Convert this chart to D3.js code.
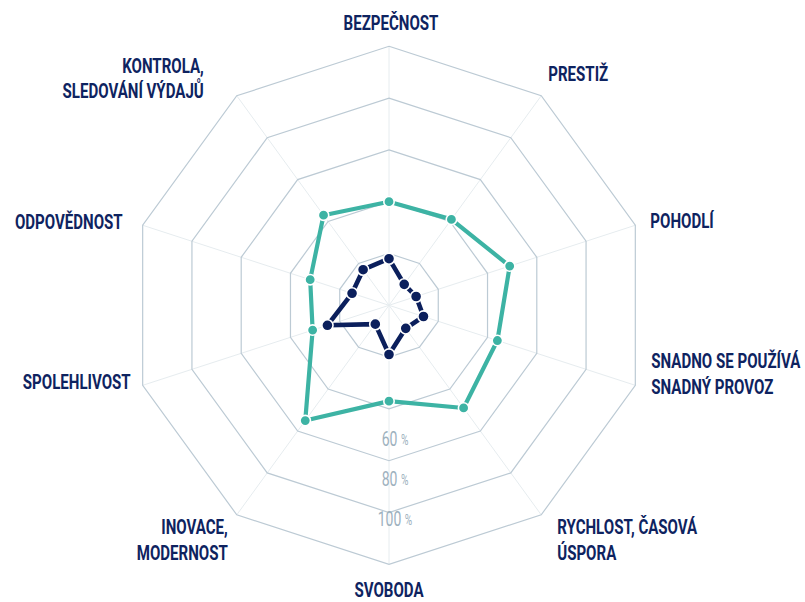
<!DOCTYPE html>
<html>
<head>
<meta charset="utf-8">
<script src="https://cdn.jsdelivr.net/npm/d3@7"></script>
<style>
  html, body { margin: 0; padding: 0; background: #ffffff; }
  svg { display: block; font-family: Roboto, "Noto Sans", sans-serif; }
</style>
</head>
<body>
<script>
// Axis names (multi-line labels split on "\n"), clockwise from the top
const categories = [
  "BEZPEČNOST",
  "PRESTIŽ",
  "POHODLÍ",
  "SNADNO SE POUŽÍVÁ\nSNADNÝ PROVOZ",
  "RYCHLOST, ČASOVÁ\nÚSPORA",
  "SVOBODA",
  "INOVACE,\nMODERNOST",
  "SPOLEHLIVOST",
  "ODPOVĚDNOST",
  "KONTROLA,\nSLEDOVÁNÍ VÝDAJŮ"
];

// Shares in percent
const seriesOuter = [40, 41, 49, 44, 49, 37, 55, 31, 32, 43];
const seriesInner = [18, 10, 11, 14, 11, 19, 9, 25, 15, 17];

// Grid rings and the rings that carry a tick label
const ringLevels = [20, 40, 60, 80, 100];
const tickLabels = [60, 80, 100];

// Label placement relative to each outer vertex
const labelLayout = [
  { dx: 2,   dy: -16,  anchor: "middle" },
  { dx: 7,   dy: -15,  anchor: "start" },
  { dx: 15,  dy: 3,    anchor: "start" },
  { dx: 16,  dy: -17,  anchor: "start" },
  { dx: 16,  dy: 19.5, anchor: "start" },
  { dx: 0,   dy: 32.5, anchor: "middle" },
  { dx: -9,  dy: 19.5, anchor: "end" },
  { dx: -12, dy: 3.7,  anchor: "end" },
  { dx: -20, dy: 4,    anchor: "end" },
  { dx: -33, dy: -23,  anchor: "end" }
];

const W = 805, H = 602;
const cx = 389, cy = 305.3, R = 259;
const n = categories.length;

const COLORS = {
  ring: "#bccad4",
  spoke: "#e6ecef",
  outer: "#3db3a4",
  inner: "#0b1f5c",
  label: "#0e2360",
  tick: "#9db1be"
};

const svg = d3.select("body").append("svg")
  .attr("width", W).attr("height", H);

const g = svg.append("g").attr("transform", `translate(${cx},${cy})`);

const rScale = d3.scaleLinear().domain([0, 100]).range([0, R]);
const angle = d3.scaleLinear().domain([0, n]).range([0, 2 * Math.PI]);
// offset of the percentage labels along the bottom spoke
const tickScale = d3.scaleLinear().domain([0, 100]).range([13, 214]);

const radial = d3.lineRadial()
  .angle((d, i) => angle(i))
  .radius(d => rScale(d))
  .curve(d3.curveLinearClosed);

// spokes
g.append("g").selectAll("line")
  .data(categories)
  .join("line")
  .attr("x1", 0).attr("y1", 0)
  .attr("x2", (d, i) => d3.pointRadial(angle(i), R)[0])
  .attr("y2", (d, i) => d3.pointRadial(angle(i), R)[1])
  .attr("stroke", COLORS.spoke)
  .attr("stroke-width", 1);

// rings
g.append("g").selectAll("path")
  .data(ringLevels)
  .join("path")
  .attr("d", lvl => radial(categories.map(() => lvl)))
  .attr("fill", "none")
  .attr("stroke", COLORS.ring)
  .attr("stroke-width", 1.2);

// percentage tick labels
const ticks = g.append("g").selectAll("text")
  .data(tickLabels)
  .join("text")
  .attr("transform", v => `translate(6,${tickScale(v)}) scale(0.7,1)`)
  .attr("text-anchor", "middle")
  .attr("dominant-baseline", "central")
  .attr("fill", COLORS.tick)
  .attr("font-weight", 400)
  .attr("font-size", 20);
ticks.append("tspan").text(v => v);
ticks.append("tspan").attr("font-size", 14.5).attr("dx", 5).text("%");

function drawSeries(values, color, lineWidth, dotR) {
  const s = g.append("g");
  s.append("path")
    .attr("d", radial(values))
    .attr("fill", "none")
    .attr("stroke", color)
    .attr("stroke-width", lineWidth)
    .attr("stroke-linejoin", "round");
  s.selectAll("circle")
    .data(values)
    .join("circle")
    .attr("cx", (v, i) => d3.pointRadial(angle(i), rScale(v))[0])
    .attr("cy", (v, i) => d3.pointRadial(angle(i), rScale(v))[1])
    .attr("r", dotR)
    .attr("fill", color)
    .attr("stroke", "#ffffff")
    .attr("stroke-width", 1.6);
}

drawSeries(seriesOuter, COLORS.outer, 4.2, 5.2);
drawSeries(seriesInner, COLORS.inner, 4.6, 5.6);

// axis names
const labels = g.append("g").selectAll("g")
  .data(categories)
  .join("g")
  .attr("transform", (d, i) => {
    const [x, y] = d3.pointRadial(angle(i), R);
    return `translate(${x + labelLayout[i].dx},${y + labelLayout[i].dy})`;
  });

labels.append("text")
  .attr("transform", "scale(0.735,1)")
  .attr("text-anchor", (d, i) => labelLayout[i].anchor)
  .attr("fill", COLORS.label)
  .attr("font-weight", 700)
  .attr("font-size", 20.5)
  .selectAll("tspan")
  .data(d => d.split("\n"))
  .join("tspan")
  .attr("x", 0)
  .attr("y", (d, j) => j * 25.5)
  .text(d => d);
</script>
</body>
</html>
